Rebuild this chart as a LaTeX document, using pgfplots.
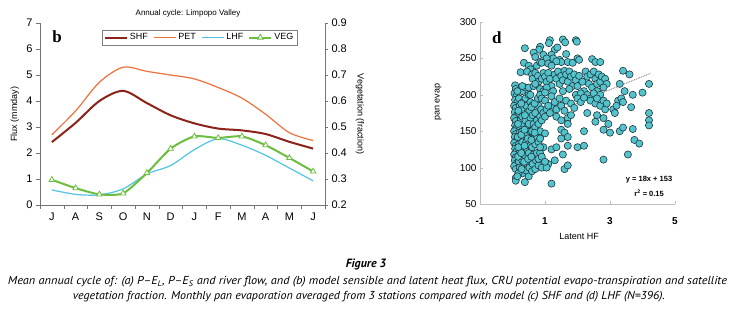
\documentclass[border=0pt]{standalone}
\usepackage{pgfplots}
\pgfplotsset{compat=1.18}
\usepackage{graphicx}
\usepackage{fontspec}
\setmainfont{Liberation Sans}
\newfontfamily\serifb{Liberation Serif}
\newfontfamily\capfont[Ligatures=TeX]{PT Sans}
\definecolor{shf}{RGB}{139,35,24}
\definecolor{pet}{RGB}{240,112,62}
\definecolor{lhf}{RGB}{82,196,226}
\definecolor{veg}{RGB}{108,190,62}
\definecolor{scat}{RGB}{84,196,204}
\definecolor{scatedge}{RGB}{30,55,65}
\pgfplotstableread{
x y
0.08 213
0.10 208
0.06 202
0.12 198
0.08 193
0.15 190
0.05 185
0.10 182
0.07 176
0.14 172
0.05 168
0.10 164
0.08 158
0.12 154
0.05 150
0.10 146
0.07 142
0.13 138
0.05 134
0.10 130
0.08 126
0.12 122
0.05 118
0.10 114
0.07 110
0.13 106
0.05 102
0.10 98
0.10 86
0.10 82
0.20 195
0.22 185
0.20 175
0.25 165
0.20 157
0.22 148
0.25 140
0.20 132
0.22 124
0.25 116
0.20 108
0.22 100
0.25 95
0.30 205
0.32 190
0.35 180
0.30 170
0.33 160
0.30 150
0.35 142
0.30 135
0.32 125
0.35 118
0.30 110
0.33 102
0.30 92
0.38 80
0.40 195
0.42 185
0.45 175
0.40 165
0.45 155
0.40 145
0.42 135
0.45 125
0.40 115
0.45 105
0.42 96
0.50 88
0.50 200
0.55 190
0.52 178
0.55 168
0.50 160
0.55 150
0.52 140
0.55 130
0.50 120
0.55 110
0.52 100
0.60 95
0.60 185
0.62 172
0.65 160
0.60 150
0.65 140
0.60 128
0.65 118
0.62 105
0.70 98
0.70 175
0.75 165
0.70 155
0.75 142
0.70 132
0.75 120
0.72 110
0.80 103
0.80 185
0.85 170
0.80 160
0.85 150
0.80 135
0.85 120
0.80 112
0.90 100
0.15 205
0.18 92
0.15 88
0.28 98
0.17 115
0.18 128
0.16 142
0.17 160
0.18 178
0.27 188
0.27 145
0.27 120
0.38 172
0.37 152
0.37 130
0.36 108
0.47 140
0.48 112
0.58 183
0.58 138
0.58 115
0.68 148
0.68 188
0.78 195
0.88 180
0.90 165
0.95 175
1.00 170
1.05 180
1.15 175
1.25 185
0.40 210
0.55 200
0.38 264
0.85 266
0.82 262
1.15 275
1.12 271
1.55 276
1.62 272
1.95 275
1.98 273
1.30 262
1.38 265
1.20 255
1.25 250
0.65 258
0.70 252
0.95 255
1.05 250
1.45 248
1.65 256
1.50 245
1.70 245
1.85 244
2.00 250
2.05 248
2.45 249
2.55 245
2.70 245
0.35 244
0.50 240
0.55 235
0.75 240
0.85 245
0.90 244
1.10 243
1.35 246
1.20 240
0.25 231
0.45 232
0.60 228
0.62 222
0.70 230
0.78 226
0.80 218
0.90 222
0.95 230
1.00 225
1.05 218
1.10 230
1.15 222
1.20 212
1.30 228
1.35 222
1.40 232
1.45 215
1.50 226
1.55 220
1.60 233
1.65 228
1.70 218
1.75 232
1.80 225
1.85 212
1.90 228
1.95 220
2.00 212
2.05 226
2.15 218
2.20 205
2.25 232
2.30 225
2.35 215
2.40 228
2.45 210
2.50 232
2.55 222
2.60 215
2.65 228
2.70 218
2.75 225
2.85 222
2.90 215
2.60 205
2.80 210
3.40 233
3.60 228
3.30 215
3.45 205
3.70 200
4.00 203
4.20 215
0.30 212
0.50 210
0.65 212
0.85 208
0.95 205
1.05 210
1.25 205
1.55 205
1.75 208
1.95 200
2.10 202
2.30 200
2.40 195
2.50 202
2.70 200
0.70 215
0.85 200
1.00 203
0.90 195
1.00 192
1.10 185
1.20 198
1.30 190
1.35 180
1.45 195
1.50 185
1.60 178
1.65 192
1.80 188
1.90 182
2.00 195
2.10 190
2.20 196
2.40 192
2.55 188
2.60 195
2.70 185
2.80 192
2.85 180
2.90 188
3.10 180
3.15 175
3.25 192
3.35 195
3.40 190
3.20 185
3.65 183
1.35 170
1.50 165
1.70 168
1.80 172
2.30 175
2.60 172
2.80 168
2.55 163
4.20 175
4.20 165
4.20 158
1.70 160
2.95 160
3.00 148
2.80 152
3.30 150
3.40 155
3.70 153
3.75 138
3.90 133
2.20 150
1.50 152
1.60 148
2.00 128
2.20 130
1.70 130
1.70 142
1.00 147
1.10 105
1.30 110
1.55 118
1.60 98
1.70 103
1.20 78
2.80 111
3.55 118
0.95 128
1.20 125
1.35 128
0.85 140
0.85 128
0.90 115
1.05 100
1.00 108
1.50 140
}\scatdata
\begin{document}
\begin{tikzpicture}
\path[use as bounding box] (0,0) rectangle (733pt,317pt);
\fill[white] (0,0) rectangle (733pt,317pt);
\node[font=\fontsize{8}{9}\selectfont] at (188pt,304pt) {Annual cycle: Limpopo Valley};
% ---------- panel b, left axis ----------
\begin{axis}[
  at={(40pt,112pt)}, anchor=south west,
  scale only axis, width=285pt, height=182pt,
  xmin=-0.5, xmax=11.5, ymin=0, ymax=7,
  axis x line*=bottom, axis y line*=left,
  axis line style={black!55,-},
  xtick={0,...,11}, xticklabels={J,A,S,O,N,D,J,F,M,A,M,J},
  minor xtick={-0.5,0.5,...,11.5},
  ytick={0,...,7},
  tick align=outside, major tick length=4pt, minor tick length=4pt,
  tick style={black!55},
  major x tick style={draw=none},
  tick label style={font=\fontsize{11}{12}\selectfont},
  /pgf/number format/assume math mode=true,
  ylabel={Flux (mmday)},
  ylabel style={font=\fontsize{9}{10}\selectfont, at={(axis description cs:-0.088,0.5)}, anchor=center, rotate=0},
]
\addplot[color=pet, line width=1.2pt, smooth] coordinates {(0,2.70)(1,3.62)(2,4.72)(3,5.30)(4,5.14)(5,5.00)(6,4.85)(7,4.52)(8,4.11)(9,3.49)(10,2.78)(11,2.48)};
\addplot[color=lhf, line width=1.2pt, smooth] coordinates {(0,0.58)(1,0.41)(2,0.39)(3,0.62)(4,1.19)(5,1.52)(6,2.13)(7,2.55)(8,2.30)(9,1.91)(10,1.42)(11,0.93)};
\addplot[color=shf, line width=2pt, smooth] coordinates {(0,2.42)(1,3.16)(2,4.00)(3,4.39)(4,3.92)(5,3.45)(6,3.14)(7,2.94)(8,2.87)(9,2.73)(10,2.43)(11,2.17)};
\node[font=\serifb\bfseries\fontsize{17}{18}\selectfont] at (rel axis cs:0.06,0.923) {b};
\end{axis}
% ---------- panel b, right axis ----------
\begin{axis}[
  at={(40pt,112pt)}, anchor=south west,
  scale only axis, width=285pt, height=182pt,
  xmin=-0.5, xmax=11.5, ymin=0.2, ymax=0.9,
  axis y line*=right, axis x line=none,
  axis line style={black!55,-},
  ytick={0.2,0.3,0.4,0.5,0.6,0.7,0.8,0.9},
  yticklabel style={/pgf/number format/.cd, fixed, fixed zerofill, precision=1},
  tick align=outside, major tick length=3pt,
  tick style={black!55},
  tick label style={font=\fontsize{11}{12}\selectfont},
  /pgf/number format/assume math mode=true,
  ylabel={Vegetation (fraction)},
  ylabel style={font=\fontsize{9}{10}\selectfont, at={(axis description cs:1.123,0.5)}, anchor=center, rotate=180},
  legend columns=4,
  legend style={at={(0.218,0.962)}, anchor=north west, draw=black!50, fill=white,
    font=\fontsize{9}{10}\selectfont, inner sep=1.5pt,
    /tikz/every even column/.append style={column sep=3pt}},
  legend image code/.code={\draw[mark repeat=2,mark phase=2,#1] plot coordinates {(0pt,0pt) (11pt,0pt) (22pt,0pt)};},
]
\addlegendimage{draw=shf, line width=2pt}
\addlegendimage{draw=pet, line width=1.5pt}
\addlegendimage{draw=lhf, line width=1.5pt}
\addplot[color=veg, line width=2pt, smooth, tension=0.4, mark=triangle*, mark size=3.2pt, mark options={fill=white, line width=0.8pt}] coordinates {(0,0.297)(1,0.265)(2,0.241)(3,0.245)(4,0.323)(5,0.417)(6,0.464)(7,0.458)(8,0.464)(9,0.430)(10,0.381)(11,0.329)};
\legend{SHF,PET,LHF,VEG}
\end{axis}
% ---------- panel d ----------
\begin{axis}[
  at={(480pt,113pt)}, anchor=south west,
  scale only axis, width=195pt, height=182pt,
  xmin=-1, xmax=5, ymin=50, ymax=300,
  xtick={-1,1,3,5}, ytick={50,100,150,200,250,300},
  axis x line*=bottom, axis y line*=left,
  axis line style={black!25,-},
  tick style={black!25}, tick align=inside, major tick length=3pt,
  tick label style={font=\fontsize{10}{11}\selectfont},
  xticklabel style={font=\bfseries\fontsize{10}{11}\selectfont, yshift=-10pt},
  /pgf/number format/assume math mode=true,
  xlabel={Latent HF}, ylabel={pan evap},
  xlabel style={font=\fontsize{9}{10}\selectfont, at={(axis description cs:0.508,-0.176)}, anchor=center},
  ylabel style={font=\fontsize{9}{10}\selectfont, at={(axis description cs:-0.215,0.56)}, anchor=center, rotate=0},
]
\addplot[only marks, mark=*, mark size=3.6pt, mark options={fill=scat, draw=scatedge, line width=0.6pt}] table[x=x,y=y] {\scatdata};
\addplot[black!60, densely dotted, line width=0.8pt] coordinates {(0,153)(4.25,229.5)};
\node[font=\serifb\bfseries\fontsize{17}{18}\selectfont] at (rel axis cs:0.087,0.912) {d};
\node[font=\bfseries\fontsize{7.5}{8}\selectfont] at (rel axis cs:0.867,0.132) {y = 18x + 153};
\node[font=\bfseries\fontsize{7.5}{8}\selectfont] at (rel axis cs:0.867,0.06) {r\textsuperscript{2} = 0.15};
\end{axis}
% ---------- caption ----------
\node[font=\capfont\bfseries\itshape\fontsize{12}{13}\selectfont] at (366pt,52pt) {Figure 3};
\node[inner sep=0pt] at (367.5pt,35pt) {\resizebox{719pt}{\height}{\capfont\itshape\fontsize{11.5}{13}\selectfont Mean annual cycle of: (a) P–E\textsubscript{L}, P–E\textsubscript{S} and river flow, and (b) model sensible and latent heat flux, CRU potential evapo-transpiration and satellite}};
\node[inner sep=0pt] at (369pt,20pt) {\resizebox{592pt}{\height}{\capfont\itshape\fontsize{11.5}{13}\selectfont vegetation fraction. Monthly pan evaporation averaged from 3 stations compared with model (c) SHF and (d) LHF (N=396).}};
\end{tikzpicture}
\end{document}
